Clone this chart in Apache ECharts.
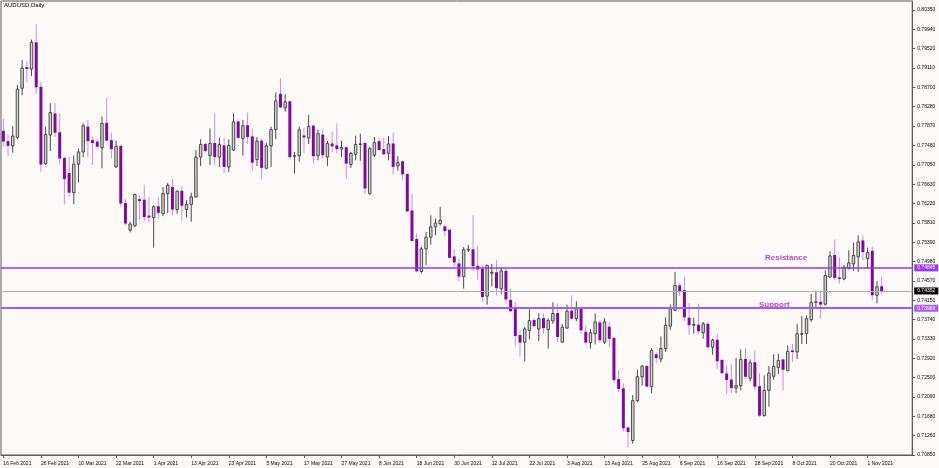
<!DOCTYPE html>
<html><head><meta charset="utf-8">
<script src="https://cdn.jsdelivr.net/npm/echarts/dist/echarts.min.js"></script>
<style>html,body{margin:0;padding:0;background:#FFFAFA}#c{width:939px;height:468px}</style>
</head><body><div id="c"></div><script>
// ---- DATA (AUDUSD daily, 16 Feb 2021 -> 4 Nov 2021) ----
const opens = [
0.7776,0.7754,0.7745,0.7763,0.7868,0.7912,0.7909,0.7965,0.7870,0.7707,
0.7768,0.7813,0.7773,0.7718,0.7686,0.7645,0.7706,0.7732,0.7785,0.7756,
0.7753,0.7741,0.7793,0.7756,0.7700,0.7744,0.7622,0.7565,0.7574,0.7630,
0.7629,0.7595,0.7592,0.7615,0.7600,0.7643,0.7656,0.7609,0.7648,0.7609,
0.7620,0.7636,0.7721,0.7748,0.7724,0.7750,0.7721,0.7745,0.7700,0.7736,
0.7796,0.7761,0.7788,0.7764,0.7716,0.7755,0.7697,0.7745,0.7780,0.7855,
0.7826,0.7839,0.7723,0.7724,0.7766,0.7762,0.7787,0.7724,0.7768,0.7721,
0.7749,0.7745,0.7738,0.7741,0.7705,0.7727,0.7748,0.7750,0.7643,0.7725,
0.7754,0.7737,0.7729,0.7749,0.7702,0.7711,0.7684,0.7606,0.7545,0.7477,
0.7525,0.7550,0.7572,0.7579,0.7572,0.7565,0.7508,0.7493,0.7466,0.7523,
0.7523,0.7488,0.7481,0.7424,0.7473,0.7474,0.7440,0.7477,0.7415,0.7396,
0.7340,0.7326,0.7351,0.7372,0.7354,0.7376,0.7353,0.7371,0.7387,0.7326,
0.7356,0.7392,0.7376,0.7396,0.7347,0.7325,0.7344,0.7367,0.7326,0.7358,
0.7334,0.7246,0.7226,0.7143,0.7116,0.7201,0.7252,0.7274,0.7231,0.7299,
0.7290,0.7312,0.7360,0.7394,0.7446,0.7436,0.7377,0.7362,0.7362,0.7346,
0.7364,0.7315,0.7330,0.7287,0.7258,0.7245,0.7228,0.7233,0.7289,0.7249,
0.7282,0.7231,0.7169,0.7223,0.7253,0.7272,0.7288,0.7265,0.7307,0.7305,
0.7343,0.7344,0.7374,0.7411,0.7411,0.7407,0.7465,0.7511,0.7463,0.7461,
0.7483,0.7493,0.7508,0.7542,0.7504,0.7520,0.7426,0.7444];
const closes = [
0.7754,0.7745,0.7766,0.7866,0.7911,0.7909,0.7966,0.7870,0.7705,0.7769,
0.7816,0.7773,0.7718,0.7674,0.7645,0.7706,0.7732,0.7788,0.7755,0.7751,
0.7743,0.7793,0.7756,0.7738,0.7744,0.7622,0.7579,0.7578,0.7641,0.7627,
0.7593,0.7592,0.7615,0.7602,0.7643,0.7661,0.7609,0.7648,0.7617,0.7620,
0.7636,0.7721,0.7748,0.7734,0.7750,0.7721,0.7748,0.7700,0.7746,0.7796,
0.7762,0.7788,0.7764,0.7709,0.7755,0.7698,0.7745,0.7780,0.7841,0.7827,
0.7839,0.7721,0.7724,0.7779,0.7763,0.7786,0.7723,0.7771,0.7725,0.7750,
0.7744,0.7738,0.7742,0.7707,0.7729,0.7748,0.7749,0.7654,0.7739,0.7752,
0.7736,0.7727,0.7749,0.7700,0.7709,0.7684,0.7605,0.7542,0.7477,0.7525,
0.7550,0.7572,0.7580,0.7586,0.7563,0.7506,0.7496,0.7466,0.7523,0.7524,
0.7488,0.7481,0.7422,0.7490,0.7475,0.7441,0.7478,0.7417,0.7392,0.7339,
0.7325,0.7354,0.7372,0.7360,0.7376,0.7356,0.7372,0.7387,0.7337,0.7358,
0.7392,0.7376,0.7397,0.7351,0.7325,0.7346,0.7369,0.7330,0.7369,0.7333,
0.7245,0.7226,0.7142,0.7134,0.7201,0.7252,0.7275,0.7231,0.7308,0.7292,
0.7312,0.7362,0.7397,0.7447,0.7435,0.7379,0.7362,0.7364,0.7349,0.7365,
0.7315,0.7330,0.7285,0.7260,0.7245,0.7228,0.7233,0.7289,0.7252,0.7282,
0.7231,0.7169,0.7223,0.7260,0.7274,0.7287,0.7267,0.7306,0.7305,0.7344,
0.7344,0.7376,0.7411,0.7412,0.7406,0.7468,0.7510,0.7463,0.7461,0.7486,
0.7495,0.7511,0.7540,0.7518,0.7517,0.7426,0.7444,0.7435];
const lows = [
0.7743,0.7723,0.7730,0.7759,0.7853,0.7880,0.7894,0.7856,0.7689,0.7704,
0.7734,0.7764,0.7705,0.7620,0.7636,0.7620,0.7667,0.7721,0.7721,0.7704,
0.7741,0.7697,0.7755,0.7718,0.7698,0.7615,0.7575,0.7560,0.7572,0.7586,
0.7583,0.7583,0.7528,0.7590,0.7595,0.7602,0.7597,0.7600,0.7585,0.7592,
0.7583,0.7634,0.7702,0.7731,0.7704,0.7704,0.7700,0.7687,0.7689,0.7734,
0.7759,0.7724,0.7749,0.7693,0.7702,0.7673,0.7695,0.7700,0.7759,0.7825,
0.7818,0.7716,0.7686,0.7711,0.7729,0.7749,0.7707,0.7714,0.7718,0.7702,
0.7732,0.7729,0.7721,0.7674,0.7698,0.7714,0.7713,0.7642,0.7641,0.7721,
0.7734,0.7725,0.7714,0.7684,0.7692,0.7672,0.7604,0.7540,0.7476,0.7473,
0.7490,0.7534,0.7554,0.7575,0.7552,0.7504,0.7488,0.7456,0.7440,0.7518,
0.7478,0.7459,0.7413,0.7406,0.7445,0.7426,0.7428,0.7408,0.7390,0.7319,
0.7295,0.7285,0.7332,0.7358,0.7328,0.7344,0.7312,0.7365,0.7326,0.7325,
0.7354,0.7374,0.7371,0.7344,0.7321,0.7312,0.7321,0.7326,0.7322,0.7315,
0.7240,0.7219,0.7135,0.7101,0.7109,0.7198,0.7233,0.7230,0.7217,0.7281,
0.7283,0.7305,0.7352,0.7392,0.7424,0.7371,0.7342,0.7344,0.7344,0.7333,
0.7312,0.7299,0.7269,0.7256,0.7215,0.7217,0.7217,0.7223,0.7248,0.7242,
0.7223,0.7166,0.7167,0.7188,0.7246,0.7258,0.7223,0.7264,0.7283,0.7290,
0.7322,0.7322,0.7369,0.7397,0.7376,0.7404,0.7463,0.7459,0.7451,0.7458,
0.7481,0.7478,0.7476,0.7501,0.7483,0.7416,0.7409,0.7429];
const highs = [
0.7803,0.7769,0.7787,0.7875,0.7928,0.7926,0.7972,0.8005,0.7882,0.7786,
0.7836,0.7836,0.7814,0.7721,0.7721,0.7724,0.7739,0.7793,0.7800,0.7764,
0.7759,0.7808,0.7848,0.7773,0.7756,0.7746,0.7632,0.7583,0.7643,0.7640,
0.7662,0.7636,0.7618,0.7636,0.7657,0.7666,0.7675,0.7650,0.7659,0.7629,
0.7645,0.7736,0.7759,0.7751,0.7782,0.7814,0.7762,0.7762,0.7759,0.7814,
0.7801,0.7800,0.7816,0.7782,0.7764,0.7761,0.7751,0.7786,0.7859,0.7889,
0.7855,0.7841,0.7732,0.7786,0.7784,0.7811,0.7791,0.7780,0.7780,0.7755,
0.7775,0.7793,0.7756,0.7743,0.7732,0.7767,0.7771,0.7754,0.7743,0.7764,
0.7761,0.7762,0.7766,0.7773,0.7723,0.7714,0.7686,0.7643,0.7558,0.7529,
0.7561,0.7597,0.7590,0.7615,0.7577,0.7566,0.7525,0.7504,0.7529,0.7534,
0.7597,0.7531,0.7490,0.7491,0.7493,0.7501,0.7484,0.7483,0.7440,0.7411,
0.7351,0.7358,0.7396,0.7377,0.7388,0.7387,0.7377,0.7411,0.7409,0.7365,
0.7406,0.7426,0.7413,0.7397,0.7362,0.7354,0.7387,0.7372,0.7377,0.7369,
0.7336,0.7267,0.7238,0.7144,0.7213,0.7267,0.7277,0.7277,0.7313,0.7305,
0.7338,0.7379,0.7406,0.7476,0.7452,0.7466,0.7409,0.7378,0.7408,0.7369,
0.7369,0.7333,0.7345,0.7289,0.7277,0.7280,0.7292,0.7310,0.7312,0.7289,
0.7308,0.7260,0.7255,0.7275,0.7300,0.7301,0.7290,0.7319,0.7322,0.7365,
0.7381,0.7383,0.7429,0.7436,0.7436,0.7479,0.7520,0.7545,0.7508,0.7490,
0.7522,0.7538,0.7554,0.7554,0.7528,0.7530,0.7456,0.7466];

const firstDate = [2021, 1, 16];      // 16 Feb 2021 (month 0-based)
const emptySlots = 6;                 // right-hand chart shift
const resistance = 0.74845;
const support = 0.73983;
const lastPrice = 0.74352;
const yMin = 0.7085, yTop = 0.8035, yMax = 0.80542, ySteps = 23;
const symbolTitle = 'AUDUSD,Daily';
const resistanceText = 'Resistance';
const supportText = 'Support';

// ---- categories: trading days ----
const MONTHS = ['Jan','Feb','Mar','Apr','May','Jun','Jul','Aug','Sep','Oct','Nov','Dec'];
const NBARS = opens.length;
const dates = [];
let d = new Date(Date.UTC(firstDate[0], firstDate[1], firstDate[2]));
while (dates.length < NBARS + emptySlots) {
  const wd = d.getUTCDay();
  if (wd !== 0 && wd !== 6) dates.push(d.getUTCDate() + ' ' + MONTHS[d.getUTCMonth()] + ' ' + d.getUTCFullYear());
  d = new Date(d.getTime() + 86400000);
}
const ohlc = opens.map((o, i) => [i, o, closes[i], lows[i], highs[i]]);

const FONT = 'Liberation Sans';
const showIdx = (idx) => idx % 8 === 0 && idx < NBARS;
const priceLabel = (bg) => ({show: true, position: 'end', color: '#fff', backgroundColor: bg, fontSize: 5, fontFamily: FONT, padding: [1, 3, 1, 3], distance: 2});

const chart = echarts.init(document.getElementById('c'), null, {renderer: 'canvas'});
chart.setOption({
  animation: false,
  backgroundColor: '#FFFAFA',
  grid: {left: 1, top: 1, right: 26.8, bottom: 13, show: true, borderColor: '#5a5a5a', borderWidth: 1, backgroundColor: 'transparent'},
  xAxis: {
    type: 'category', data: dates, boundaryGap: true,
    axisLine: {show: true, lineStyle: {color: '#5a5a5a', width: 1}},
    axisTick: {show: true, length: 3, alignWithLabel: true, interval: showIdx, lineStyle: {color: '#5a5a5a'}},
    axisLabel: {interval: showIdx, align: 'left', fontSize: 5, fontFamily: FONT, color: '#000', margin: 6},
    splitLine: {show: false}
  },
  yAxis: {
    type: 'value', position: 'right', min: yMin, max: yMax, interval: (yTop - yMin) / ySteps, scale: true,
    axisLine: {show: true, lineStyle: {color: '#5a5a5a', width: 1}},
    axisTick: {show: true, length: 3, lineStyle: {color: '#5a5a5a'}},
    splitLine: {show: false},
    axisLabel: {fontSize: 5, fontFamily: FONT, color: '#000', margin: 5, showMaxLabel: false,
      formatter: v => v > yTop + 0.0002 ? '' : (Math.round(v * 1e4) / 1e4).toFixed(5)}
  },
  series: [
    {
      type: 'line', data: [], z: 1, silent: true,
      markLine: {
        symbol: 'none', silent: true, animation: false, precision: 5,
        data: [
          {yAxis: resistance, lineStyle: {color: '#9a35f5', width: 1.5, type: 'solid'},
           label: Object.assign(priceLabel('#9a35f5'), {formatter: resistance.toFixed(5)})},
          {yAxis: lastPrice, lineStyle: {color: '#a9b0b8', width: 1, type: 'solid'},
           label: Object.assign(priceLabel('#000'), {formatter: lastPrice.toFixed(5)})},
          {yAxis: support, lineStyle: {color: '#a65af0', width: 2, type: 'solid'},
           label: Object.assign(priceLabel('#a65af0'), {formatter: support.toFixed(5)})}
        ]
      }
    },
    {
      type: 'custom', z: 2, data: ohlc, encode: {x: 0, y: [1, 2, 3, 4]},
      renderItem: function (params, api) {
        const i = api.value(0);
        const o = api.value(1), c = api.value(2), l = api.value(3), h = api.value(4);
        const pO = api.coord([i, o]), pC = api.coord([i, c]);
        const pL = api.coord([i, l]), pH = api.coord([i, h]);
        const x = pO[0];
        const bull = c >= o;
        const top = Math.min(pO[1], pC[1]);
        const bot = Math.max(pO[1], pC[1]);
        const children = [{
          type: 'line',
          shape: {x1: x, y1: pH[1], x2: x, y2: pL[1]},
          style: {stroke: bull ? '#4a4a4a' : '#c48fe6', lineWidth: 1}
        }];
        if (bull) {
          children.push({type: 'rect', shape: {x: x - 1.25, y: top, width: 2.5, height: Math.max(bot - top, 0.5)},
            style: {fill: '#d2d2d2', stroke: '#3c3c3c', lineWidth: 0.9}});
        } else {
          children.push({type: 'rect', shape: {x: x - 1.5, y: top - 0.5, width: 3, height: Math.max(bot - top, 1) + 0.5},
            style: {fill: '#7d0a9c'}});
        }
        return {type: 'group', children: children};
      }
    }
  ],
  graphic: [
    {type: 'text', left: 4, top: 2, style: {text: symbolTitle, fill: '#000', font: '6px "Liberation Sans"'}},
    {type: 'text', left: 765, top: 253.5, style: {text: resistanceText, fill: '#b04cc4', font: 'bold 8px "Liberation Sans"'}},
    {type: 'text', left: 759, top: 300.5, style: {text: supportText, fill: '#b04cc4', font: 'bold 8px "Liberation Sans"'}}
  ]
});
</script></body></html>
